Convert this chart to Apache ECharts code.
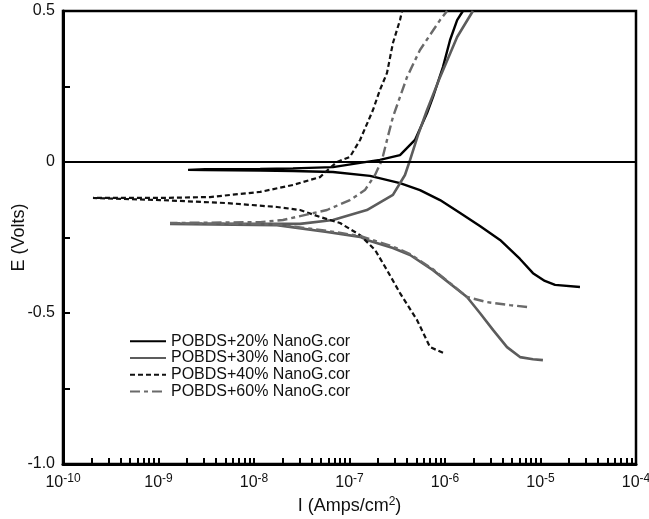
<!DOCTYPE html>
<html>
<head>
<meta charset="utf-8">
<script src="https://cdn.jsdelivr.net/npm/echarts@6/dist/echarts.min.js"></script>
<style>
  html, body { margin: 0; padding: 0; background: #fff; }
  #chart { width: 649px; height: 519px; }
</style>
</head>
<body>
<div id="chart"></div>
<script>
// legend names
const seriesNames = [
  'POBDS+20% NanoG.cor',
  'POBDS+30% NanoG.cor',
  'POBDS+40% NanoG.cor',
  'POBDS+60% NanoG.cor'
];

// [I (A/cm2), E (V)] - cathodic end -> Ecorr -> anodic end
const nano20 = [
  [2.59e-5, -0.414], [1.42e-5, -0.407], [1.11e-5, -0.394], [8.34e-6, -0.368],
  [6.10e-6, -0.321], [3.77e-6, -0.258], [2.32e-6, -0.212], [1.44e-6, -0.169],
  [8.87e-7, -0.126], [5.47e-7, -0.093], [3.38e-7, -0.070], [1.64e-7, -0.046],
  [6.71e-8, -0.033], [2.56e-8, -0.030], [1.16e-8, -0.028], [3.07e-9, -0.027],
  [2.04e-9, -0.026],
  [3.07e-9, -0.024], [1.16e-8, -0.023], [2.56e-8, -0.021], [6.71e-8, -0.017],
  [1.29e-7, -0.003], [2.08e-7, 0.007], [3.38e-7, 0.023], [4.85e-7, 0.073],
  [6.49e-7, 0.162], [7.48e-7, 0.215], [9.53e-7, 0.315], [1.13e-6, 0.404],
  [1.34e-6, 0.470], [1.54e-6, 0.500]
];

const nano30 = [
  [1.06e-5, -0.656], [8.34e-6, -0.653], [6.10e-6, -0.646], [4.46e-6, -0.613],
  [3.18e-6, -0.556], [2.32e-6, -0.500], [1.70e-6, -0.447], [7.48e-7, -0.358],
  [4.31e-7, -0.308], [2.85e-7, -0.285], [1.52e-7, -0.258], [1.29e-7, -0.248],
  [5.81e-8, -0.232], [1.74e-8, -0.209], [1.32e-9, -0.205],
  [3.03e-8, -0.205], [6.71e-8, -0.192], [1.52e-7, -0.159], [2.85e-7, -0.109],
  [3.81e-7, -0.043], [4.31e-7, 0.007], [5.21e-7, 0.089], [6.49e-7, 0.172],
  [8.87e-7, 0.281], [1.34e-6, 0.414], [1.96e-6, 0.500]
];

const nano40 = [
  [9.53e-7, -0.632], [6.97e-7, -0.613], [5.09e-7, -0.523], [3.38e-7, -0.434],
  [2.47e-7, -0.358], [1.85e-7, -0.291], [1.29e-7, -0.242], [7.96e-8, -0.202],
  [4.91e-8, -0.182], [3.03e-8, -0.159], [1.74e-8, -0.149], [5.21e-9, -0.136],
  [1.04e-9, -0.126], [2.06e-10, -0.119],
  [1.04e-9, -0.119], [3.46e-9, -0.116], [1.16e-8, -0.099], [2.56e-8, -0.076],
  [4.91e-8, -0.050], [6.25e-8, -0.020], [7.40e-8, 0.000], [1.01e-7, 0.017],
  [1.29e-7, 0.073], [1.76e-7, 0.172], [2.08e-7, 0.238], [2.47e-7, 0.295],
  [2.85e-7, 0.394], [3.38e-7, 0.470], [3.55e-7, 0.500]
];

const nano60 = [
  [7.23e-6, -0.480], [4.80e-6, -0.474], [2.75e-6, -0.464], [1.70e-6, -0.447],
  [7.48e-7, -0.355], [4.31e-7, -0.305], [2.85e-7, -0.280], [1.52e-7, -0.252],
  [1.29e-7, -0.245], [5.81e-8, -0.228], [1.74e-8, -0.207], [1.32e-9, -0.202],
  [1.16e-8, -0.199], [2.01e-8, -0.192], [5.81e-8, -0.159], [1.01e-7, -0.126],
  [1.45e-7, -0.093], [1.85e-7, -0.043], [2.19e-7, 0.007], [2.47e-7, 0.073],
  [2.85e-7, 0.149], [4.00e-7, 0.281], [5.47e-7, 0.371], [8.87e-7, 0.470],
  [1.05e-6, 0.500]
];

// axis ticks
const decadeTicks = [1e-10, 1e-9, 1e-8, 1e-7, 1e-6, 1e-5, 1e-4];
const allTicks = [];
decadeTicks.forEach(function (d, i) {
  allTicks.push(d);
  if (i < decadeTicks.length - 1) {
    for (let m = 2; m <= 9; m++) allTicks.push(m * d);
  }
});

const font = 'Liberation Sans, Arial, Helvetica, sans-serif';

let chartElem = document.getElementById('chart');
let chart = echarts.init(chartElem);

function lineSeries(name, data, color, width, type) {
  return {
    name: name,
    type: 'line',
    data: data,
    symbol: 'none',
    showSymbol: false,
    smooth: false,
    animation: false,
    lineStyle: { color: color, width: width, type: type },
    itemStyle: { color: color }
  };
}

let s20 = lineSeries(seriesNames[0], nano20, '#000000', 2.4, 'solid');
s20.markLine = {
  silent: true,
  symbol: 'none',
  label: { show: false },
  lineStyle: { color: '#000', type: 'solid', width: 2 },
  data: [{ yAxis: 0 }]
};

chart.setOption({
  animation: false,
  backgroundColor: '#fff',
  textStyle: { fontFamily: font },
  grid: {
    left: 63, right: 13, top: 11, bottom: 55,
    containLabel: false,
    outerBoundsMode: 'none',
    show: true, borderColor: '#000', borderWidth: 2.5, backgroundColor: 'transparent'
  },
  legend: {
    orient: 'vertical',
    left: 124,
    top: 328,
    itemWidth: 36,
    itemHeight: 10,
    itemGap: 0,
    itemStyle: { opacity: 0 },
    textStyle: { fontFamily: font, fontSize: 16, lineHeight: 16.7, color: '#111' },
    data: seriesNames
  },
  xAxis: {
    type: 'log',
    logBase: 10,
    min: 1e-10,
    max: 1e-4,
    name: 'I (Amps/cm{sup|2})',
    nameLocation: 'middle',
    nameGap: 32,
    nameMoveOverlap: false,
    nameTextStyle: {
      fontFamily: font, fontSize: 18, color: '#111',
      rich: { sup: { fontSize: 12, verticalAlign: 'top', padding: [0, 0, 8, 0], color: '#111', fontFamily: font } }
    },
    axisLine: { show: true, onZero: false, lineStyle: { color: '#000', width: 3 } },
    axisTick: {
      show: true, inside: true, length: 6,
      lineStyle: { color: '#000', width: 2 },
      customValues: allTicks
    },
    splitLine: { show: false },
    minorTick: { show: false },
    axisLabel: {
      customValues: decadeTicks,
      margin: 9,
      color: '#111',
      fontFamily: font,
      fontSize: 16,
      formatter: function (v) {
        let p = Math.round(Math.log10(v));
        return '10{sup|' + p + '}';
      },
      rich: {
        sup: { fontSize: 12, verticalAlign: 'top', padding: [0, 0, 8, 0], color: '#111', fontFamily: font }
      }
    }
  },
  yAxis: {
    type: 'value',
    min: -1.0,
    max: 0.5,
    interval: 0.25,
    name: 'E (Volts)',
    nameLocation: 'middle',
    nameGap: 35,
    nameMoveOverlap: false,
    nameRotate: 90,
    nameTextStyle: { fontFamily: font, fontSize: 18, color: '#111' },
    axisLine: { show: true, lineStyle: { color: '#000', width: 3 } },
    axisTick: { show: true, inside: true, length: 7, lineStyle: { color: '#000', width: 2 } },
    splitLine: { show: false },
    axisLabel: {
      margin: 8,
      color: '#111',
      fontFamily: font,
      fontSize: 16,
      formatter: function (v) {
        if (Math.abs(v) < 1e-9) return '0';
        if (Math.abs(v * 2 - Math.round(v * 2)) > 1e-6) return '';
        return v.toFixed(1);
      }
    }
  },
  series: [
    s20,
    lineSeries(seriesNames[1], nano30, '#5c5c5c', 2.6, 'solid'),
    lineSeries(seriesNames[2], nano40, '#111111', 2.2, [5, 3]),
    lineSeries(seriesNames[3], nano60, '#6a6a6a', 2.4, [10, 4, 4, 4])
  ]
});
</script>
</body>
</html>
